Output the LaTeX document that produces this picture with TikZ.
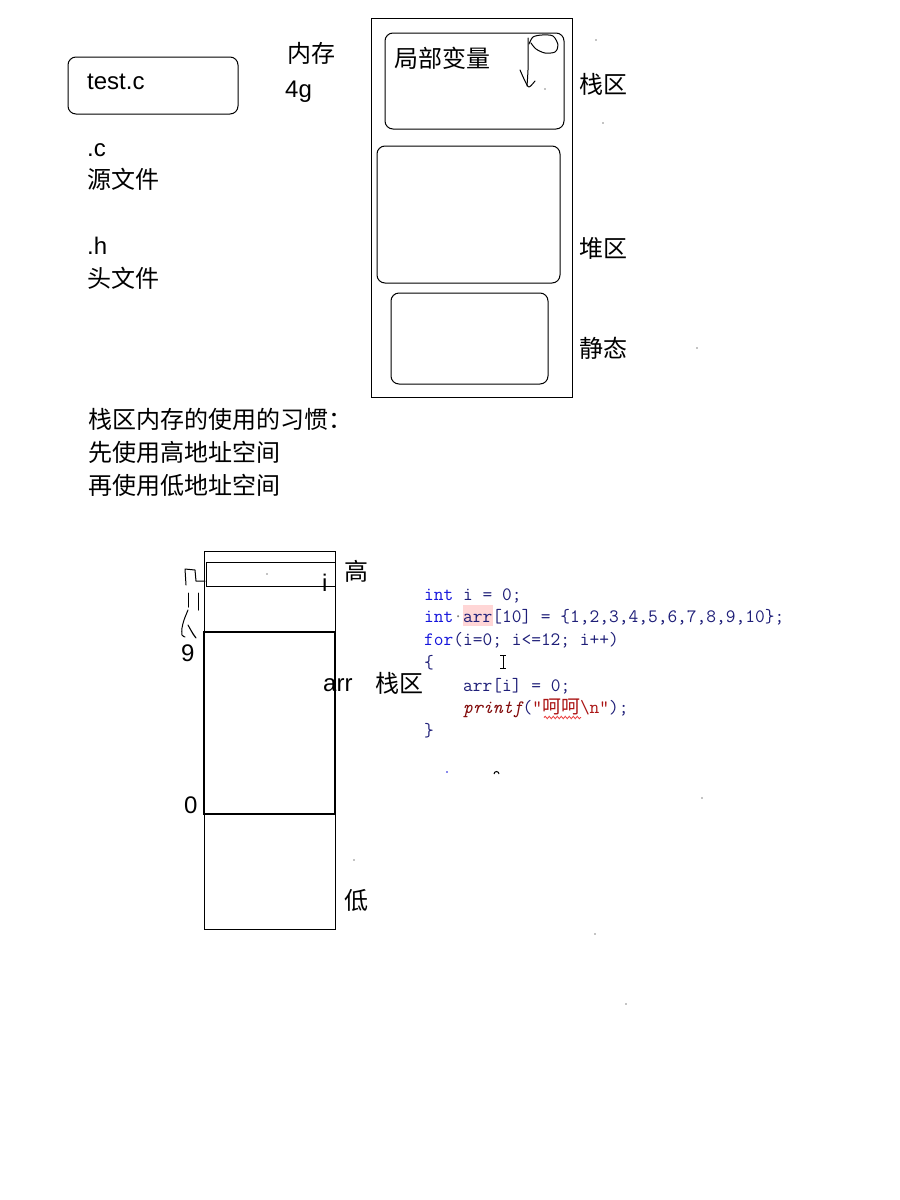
\documentclass[tikz,border=0pt]{standalone}
\usepackage{fontspec}
\setmainfont{Liberation Sans}
\newfontfamily\cjk{Noto Sans CJK SC}
\usetikzlibrary{decorations.pathmorphing}

\definecolor{kwblue}{RGB}{20,20,220}
\definecolor{idnavy}{RGB}{30,30,120}
\definecolor{fnred}{RGB}{130,10,10}
\definecolor{strred}{RGB}{170,20,20}
\definecolor{hlpink}{RGB}{255,214,214}
\definecolor{wavered}{RGB}{235,60,60}

\newcommand{\kw}[1]{\textcolor{kwblue}{#1}}

\begin{document}
\begin{tikzpicture}[x=1pt,y=-1pt,
  txt/.style={anchor=base west, inner sep=0pt, font=\fontsize{24}{28}\selectfont},
  cjktxt/.style={anchor=base west, inner sep=0pt, font=\fontsize{24}{28}\selectfont\cjk},
  code/.style={anchor=base west, inner sep=0pt, font=\fontsize{18.9}{22}\selectfont\ttfamily, text=idnavy},
  box/.style={draw, line width=1pt},
  rbox/.style={draw, line width=1pt, rounded corners=8pt},
  hand/.style={line width=1pt, line cap=round, line join=round}]
\useasboundingbox (0,0) rectangle (900,1200);
\fill[white] (0,0) rectangle (900,1200);

% ---- source file box and notes
\draw[rbox] (68,57) rectangle (238,114);
\node[txt] (testc) at (87,89) {test.c};
\node[cjktxt] (mem) at (287,62) {内存};
\node[txt] (fourg) at (285,97) {4g};
\node[txt] (dotc) at (87,156) {.c};
\node[cjktxt] (src) at (87,188) {源文件};
\node[txt] (doth) at (87,254) {.h};
\node[cjktxt] (hdr) at (87,287) {头文件};

% ---- memory layout
\draw[box] (371,18) rectangle (572,397);
\draw[rbox] (385,33) rectangle (564,129);
\draw[rbox] (377,146) rectangle (560,283);
\draw[rbox] (391,293) rectangle (548,384);
\node[cjktxt] (local) at (394,67) {局部变量};
\node[cjktxt] (stackA) at (579,93) {栈区};
\node[cjktxt] (heap) at (579,257) {堆区};
\node[cjktxt] (static) at (579,357) {静态};

% hand-drawn arrow inside the local-variable box
\draw[hand] plot[smooth] coordinates {(528,38) (528,55) (528,70) (527,86)};
\draw[hand] plot[smooth] coordinates {(529,44) (533,37) (542,35) (553,36) (558,45) (555,52) (545,53) (536,49) (531,43)};
\draw[hand] plot[smooth] coordinates {(520,70) (525,81) (529,87) (535,81)};

% ---- notes on stack usage
\node[cjktxt] (habit) at (88,428) {栈区内存的使用的习惯：};
\node[cjktxt] (high1) at (88,461) {先使用高地址空间};
\node[cjktxt] (low1) at (88,494) {再使用低地址空间};

% ---- stack frame
\draw[box] (204,551) rectangle (335,929);
\draw[box] (206,562) rectangle (335,586);
\draw[line width=1.7pt] (203.5,632) rectangle (335,814);
\node[txt] (ilab) at (322,591) {i};
\node[cjktxt] (gao) at (344,580) {高};
\node[txt] (nine) at (181,661) {9};
\node[txt] (arrlab) at (323,691) {arr};
\node[cjktxt] (stackB) at (375,692) {栈区};
\node[txt] (zero) at (184,813) {0};
\node[cjktxt] (di) at (344,909) {低};

% hand-drawn marks beside the stack frame
\draw[hand] (205,581) -- (196,581) -- (195,570) -- (185,569) -- (186,585);
\draw[hand] (188,593) -- (188,607);
\draw[hand] (198,593) -- (198,610);
\draw[hand] plot[smooth] coordinates {(188,610) (184,620) (182,628) (182,635) (185,637)};
\draw[hand] plot[smooth] coordinates {(188,625) (193,634) (196,638) (192,632) (188,625)};

% ---- code listing
\fill[hlpink] (463,605) rectangle (493,626);
\node[code] (l1) at (424,600) {\kw{int} i = 0;};
\node[code] (l2) at (424,622) {\kw{int}\textcolor{gray}{\char"00B7}arr[10] = \{1,2,3,4,5,6,7,8,9,10\};};
\node[code] (l3) at (424,645) {\kw{for}(i=0; i<=12; i++)};
\node[code] (l4) at (424,668) {\{};
\node[code] (l5) at (463,691) {arr[i] = 0;};
\node[code] (l6) at (463,713) {\textcolor{fnred}{\itshape printf}(\textcolor{strred}{"{\cjk 呵呵}\textbackslash n"});};
\node[code] (l7) at (424,736) {\}};
\draw[wavered, line width=0.8pt, decorate,
  decoration={snake, amplitude=1.2pt, segment length=4pt}] (544,717.5) -- (581,717.5);

% text cursor
\draw[line width=1pt] (503,655) -- (503,668) (500,655) -- (506,655) (500,668) -- (506,668);

% loose specks
\foreach \p in {(596,40),(545,89),(603,123),(697,348),(267,574),(702,798),(354,860),(595,934),(626,1004)}
  \fill \p circle (0.7);
\fill[kwblue] (447,772) circle (0.8);
\draw[line width=1pt] (494,774) arc (180:360:2.5);
\end{tikzpicture}
\end{document}
